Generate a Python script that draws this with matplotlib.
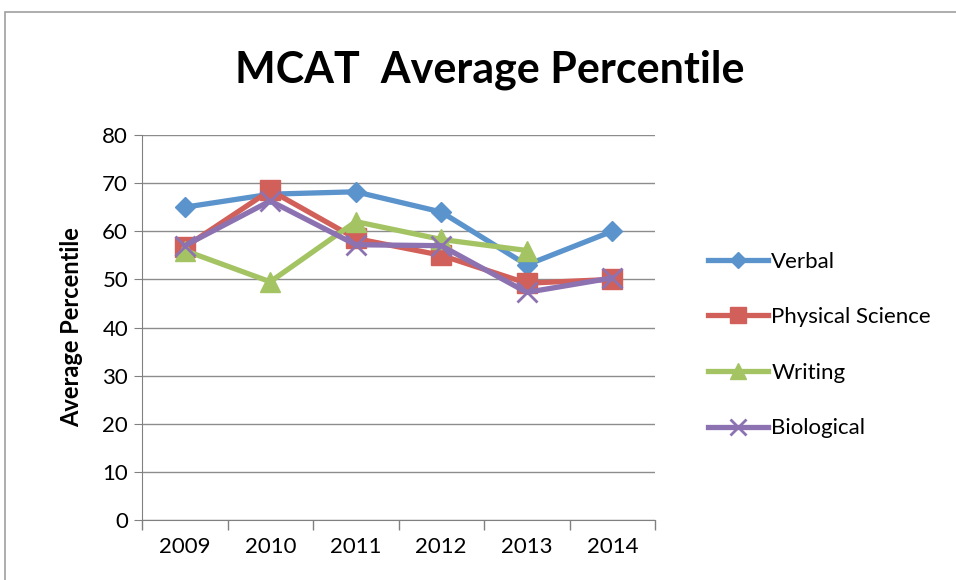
import matplotlib
matplotlib.use("Agg")
import matplotlib.pyplot as plt
from matplotlib.patches import Rectangle

# MCAT average percentile by section, 2009-2014
years = ["2009", "2010", "2011", "2012", "2013", "2014"]
verbal = [65, 67.7, 68.2, 64, 53, 60]
physical = [56.7, 68.5, 58.5, 55, 49.2, 50]
writing = [56, 49.5, 62, 58.3, 56, None]
biological = [57, 66.3, 57.2, 57, 47.3, 50.3]

plt.rcParams['font.family'] = ['Lato', 'DejaVu Sans']

fig = plt.figure(figsize=(9.56, 5.8), dpi=100)
ax = fig.add_axes([142/956, 1-520/580, 513/956, 385/580])

# chart frame like the spreadsheet export
fig.patches.append(Rectangle((5/956, -0.1), 1.1, 1-12/580+0.1, transform=fig.transFigure,
                             fill=False, edgecolor='#a0a0a0', lw=1.2))

x = list(range(len(years)))
w = [v if v is not None else float('nan') for v in writing]

ax.plot(x, verbal, color='#5b93cc', lw=3.8, marker='D', ms=10, label='Verbal', zorder=3)
ax.plot(x, physical, color='#d2605a', lw=3.8, marker='s', ms=14, label='Physical Science', zorder=3)
ax.plot(x, w, color='#a4c464', lw=3.8, marker='^', ms=15, label='Writing', zorder=3)
ax.plot(x, biological, color='#8d72b2', lw=3.8, marker='x', ms=14, mew=2, label='Biological', zorder=4)

ax.set_xlim(-0.5, 5.5)
ax.set_ylim(0, 80)
ax.set_yticks(range(0, 90, 10))
ax.set_xticks([i - 0.5 for i in range(7)])
ax.set_xticklabels([])
ax.set_xticks(x, minor=True)
ax.set_xticklabels(years, minor=True)
ax.tick_params(axis='x', which='major', length=7, color='#808080', width=1)
ax.tick_params(axis='x', which='minor', length=0, pad=12, labelsize=16)
ax.tick_params(axis='y', length=6, color='#808080', labelsize=16, pad=4)

ax.grid(axis='y', color='#8c8c8c', lw=1)
ax.set_axisbelow(True)
for s in ['top', 'right']:
    ax.spines[s].set_visible(False)
ax.spines['left'].set_color('#808080')
ax.spines['bottom'].set_color('#808080')

ax.set_ylabel('Average Percentile', fontsize=17, fontweight='bold', labelpad=14)
fig.text(490/956, 1-70/580, 'MCAT  Average Percentile', fontsize=31, fontweight='bold',
         ha='center', va='center')

fig.legend(loc='center left', bbox_to_anchor=(688/956, 1-345/580), frameon=False,
           fontsize=16, handlelength=2.7, handletextpad=0.15, labelspacing=1.6,
           markerscale=0.8)

fig.savefig('out.png', dpi=100)
